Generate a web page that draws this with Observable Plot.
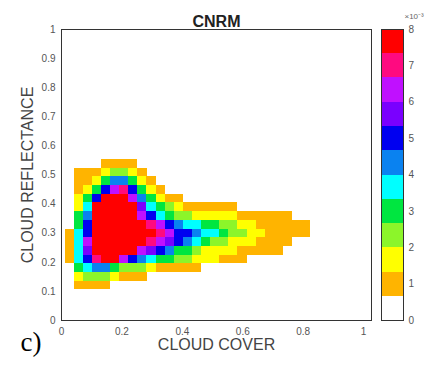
<!DOCTYPE html>
<html><head><meta charset="utf-8">
<script src="https://cdn.jsdelivr.net/npm/d3@7"></script>
<script src="https://cdn.jsdelivr.net/npm/@observablehq/plot@0.6"></script>
<style>
body{margin:0;background:#fff;}
#chart{position:relative;width:433px;height:366px;}
#chart svg{position:absolute;top:0;}
</style></head><body><div id="chart"></div>
<script>
// Bin centres (cloud cover, x) and (cloud reflectance, y, bottom to top)
const xCenters = [0.027,0.057,0.087,0.117,0.148,0.178,0.208,0.238,0.268,0.298,0.328,0.358,0.388,0.418,0.449,0.479,0.509,0.539,0.569,0.599,0.629,0.659,0.689,0.719,0.750,0.780,0.810];
const yCenters = [0.120,0.150,0.180,0.210,0.240,0.270,0.299,0.329,0.359,0.389,0.419,0.449,0.479,0.509,0.539];
const binWidth = 0.0301, binHeight = 0.0299;

// Joint frequency (x10^-3), rows from top (y=0.539) to bottom (y=0.120); missing trailing cells are 0
const density = [
  [0,0,0,0,1,1,1,1],
  [0,1,1,1,1.7,2.3,2.3,1.7,1],
  [0,1,1,1.7,3,4.3,4.3,3,1.7,1],
  [0,1,1.7,3,5,6.3,7,5,3,1.7,1],
  [0,1.7,3,5,8,8,8,6.3,4.3,3,1.7,1,1],
  [0,1.7,3.7,8,8,8,8,8,5.7,3.7,3,2.3,1.7,1,1,1,1,1,1],
  [0,3,4.3,8,8,8,8,8,6.3,5,3.7,3,2.3,2.3,1.7,1.7,1.7,1.7,1.7,1,1,1,1,1,1],
  [0,3,5,8,8,8,8,8,8,7,6.3,5,4.3,3.7,3.7,3,3,2.3,2.3,1.7,1.7,1,1,1,1,1,1],
  [1,3.7,5,8,8,8,8,8,8,8,7,6.3,5,5,4.3,3.7,3.7,3,2.3,2.3,1.7,1.7,1,1,1,1,1],
  [1,3.7,6.3,8,8,8,8,8,8,7,6.3,5.7,5,4.3,3.7,3,2.3,2.3,1.7,1.7,1.7,1,1,1,1],
  [1,3.7,5.7,8,8,8,8,8,6.3,5.7,5,4.3,3,3,2.3,1.7,1.7,1.7,1.7,1,1,1,1,1],
  [1,3.7,5,7,8,8,6.3,5,4.3,3.7,3,3,2.3,2.3,1.7,1.7,1.7,1,1,1],
  [0,3,3.7,4.3,4.3,3,2.3,2.3,2.3,1.7,1,1,1,1,1],
  [0,1.7,2.3,2.3,2.3,1.7,1,1,1],
  [0,1,1,1,1]
];

const xTicks = [0,0.2,0.4,0.6,0.8,1];
const yTicks = [0,0.1,0.2,0.3,0.4,0.5,0.6,0.7,0.8,0.9,1];
const cbarTicks = [0,1,2,3,4,5,6,7,8];
const levelBreaks = [0,0.667,1.333,2,2.667,3.333,4,4.667,5.333,6,6.667,7.333,8];
const levelColors = ["#ffffff","#ffb400","#ffff00","#8cf52a","#00e640","#00ffff","#0a82f0","#0000f0","#7a00ff","#c010ff","#ff0a80","#ff0000"];

const font = "'Liberation Sans', Arial, sans-serif";
const colorScale = {type:"threshold", domain: levelBreaks.slice(1, -1), range: levelColors};

const cells = [];
density.forEach((row, r) => row.forEach((v, c) => {
  if (v > 0) cells.push({x: xCenters[c], y: yCenters[density.length - 1 - r], v});
}));

const main = Plot.plot({
  width: 433, height: 366,
  marginLeft: 61, marginRight: 62, marginTop: 29, marginBottom: 46,
  style: {fontFamily: font, fontSize: "10px", color: "#555", background: "#fff"},
  x: {domain: [0, 1.026]},
  y: {domain: [0, 1]},
  color: colorScale,
  marks: [
    Plot.rect(cells, {
      x1: d => d.x - binWidth / 2, x2: d => d.x + binWidth / 2,
      y1: d => d.y - binHeight / 2, y2: d => d.y + binHeight / 2,
      fill: "v", shapeRendering: "crispEdges"
    }),
    Plot.frame({stroke: "#333"}),
    Plot.axisX({ticks: xTicks, tickFormat: d3.format("~g"), tickSize: 0, tickPadding: 7, label: null}),
    Plot.axisY({ticks: yTicks, tickFormat: d3.format("~g"), tickSize: 0, tickPadding: 6, label: null}),
    Plot.text(["CNRM"], {text: d => d, frameAnchor: "top", dy: -14, fontWeight: "bold", fontSize: 16, fill: "#222"}),
    Plot.text(["CLOUD COVER"], {text: d => d, frameAnchor: "bottom", dy: 29, fontSize: 16, fill: "#444"}),
    Plot.text(["CLOUD REFLECTANCE"], {text: d => d, frameAnchor: "left", dx: -34, rotate: -90, textAnchor: "middle", fontSize: 16, fill: "#444"}),
    Plot.text(["c)"], {text: d => d, frameAnchor: "bottom-left", dx: -41, dy: 22, textAnchor: "start", lineAnchor: "middle", fontFamily: "'Liberation Serif', 'DejaVu Serif', serif", fontSize: 27, fill: "#000"})
  ]
});

const bands = levelColors.map((c, i) => ({lo: levelBreaks[i], hi: levelBreaks[i + 1]}));
const cbar = Plot.plot({
  width: 52, height: 366,
  marginLeft: 0, marginRight: 30, marginTop: 29, marginBottom: 46,
  style: {fontFamily: font, fontSize: "10px", color: "#555", background: "transparent"},
  y: {domain: [0, 8]},
  color: colorScale,
  marks: [
    Plot.rect(bands, {y1: "lo", y2: "hi", fill: d => (d.lo + d.hi) / 2, shapeRendering: "crispEdges"}),
    Plot.frame({stroke: "#333"}),
    Plot.axisY({anchor: "right", ticks: cbarTicks, tickSize: 0, tickPadding: 5, label: null}),
    Plot.text(["×10⁻³"], {text: d => d, frameAnchor: "top-right", dx: 1, dy: -16, textAnchor: "start", fontSize: 8, fill: "#666"})
  ]
});
cbar.style.left = "381px";
main.style.left = "0px";

const chart = document.getElementById("chart");
chart.appendChild(main);
chart.appendChild(cbar);
</script>
</body></html>
